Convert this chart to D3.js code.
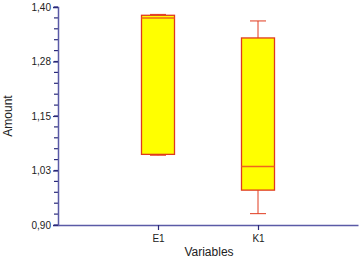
<!DOCTYPE html>
<html>
<head>
<meta charset="utf-8">
<script src="https://cdn.jsdelivr.net/npm/d3@7"></script>
<style>
  body { margin: 0; background: #fff; }
  text { font-family: "Liberation Sans", Arial, sans-serif; fill: #222; }
</style>
</head>
<body>
<script>
const categories = ["E1", "K1"];
const mins = [1.060, 0.926];
const q1s = [1.062, 0.980];
const medians = [1.375, 1.034];
const q3s = [1.381, 1.329];
const maxs = [1.383, 1.368];
const yTicks = [0.90, 1.025, 1.15, 1.275, 1.40];

window.onload = function () {
  const W = 360, H = 260;
  const M = { left: 58, top: 7, right: 0, bottom: 35 };

  const svg = d3.select("body").append("svg")
    .attr("width", W).attr("height", H);

  const x = d3.scaleLinear().domain([0, 3]).range([M.left, 358]);
  const y = d3.scaleLinear().domain([0.90, 1.40]).range([225, 7]);

  const axisColor = "#5a5aa6";

  // minor ticks
  const minor = d3.range(0.90, 1.4001, 0.025);
  svg.append("g").selectAll("line").data(minor).join("line")
    .attr("x1", M.left - 4).attr("x2", M.left)
    .attr("y1", d => y(d)).attr("y2", d => y(d))
    .attr("stroke", "#2a2a7a").attr("stroke-width", 1.2);

  const yAxis = d3.axisLeft(y).tickValues(yTicks).tickSize(5)
    .tickFormat(d => d3.format(".2f")(d + 1e-9).replace(".", ","));
  const gy = svg.append("g").attr("transform", `translate(${M.left},0)`).call(yAxis);
  gy.select(".domain").attr("stroke", axisColor).attr("stroke-width", 1.5);
  gy.selectAll(".tick line").attr("stroke", "#2a2a7a").attr("stroke-width", 1.2);
  gy.selectAll(".tick text").attr("font-size", 10).attr("x", -7).attr("fill", "#222");

  const xAxis = d3.axisBottom(x).tickValues([1, 2])
    .tickFormat(d => categories[d - 1]).tickSize(5).tickSizeOuter(0);
  const gx = svg.append("g").attr("transform", `translate(0,${y(0.90)})`).call(xAxis);
  gx.select(".domain").attr("stroke", axisColor).attr("stroke-width", 1.5);
  gx.selectAll(".tick line").attr("stroke", "#2a2a7a").attr("stroke-width", 1.2);
  gx.selectAll(".tick text").attr("font-size", 10).attr("dy", "0.85em").attr("fill", "#222");

  const boxW = 33, capW = 16;
  const stroke = "#e03a1e";
  const g = svg.append("g");
  categories.forEach((c, i) => {
    const cx = x(i + 1);
    // whiskers
    g.append("line").attr("x1", cx).attr("x2", cx)
      .attr("y1", y(maxs[i])).attr("y2", y(q3s[i])).attr("stroke", stroke);
    g.append("line").attr("x1", cx).attr("x2", cx)
      .attr("y1", y(q1s[i])).attr("y2", y(mins[i])).attr("stroke", stroke);
    [maxs[i], mins[i]].forEach(v => {
      g.append("line").attr("x1", cx - capW / 2).attr("x2", cx + capW / 2)
        .attr("y1", y(v)).attr("y2", y(v)).attr("stroke", stroke);
    });
    g.append("rect")
      .attr("x", cx - boxW / 2).attr("width", boxW)
      .attr("y", y(q3s[i])).attr("height", y(q1s[i]) - y(q3s[i]))
      .attr("fill", "#ffff00").attr("stroke", stroke).attr("stroke-width", 1.3);
    g.append("line").attr("x1", cx - boxW / 2).attr("x2", cx + boxW / 2)
      .attr("y1", y(medians[i])).attr("y2", y(medians[i]))
      .attr("stroke", "#f0661e").attr("stroke-width", 1.5);
  });

  svg.append("text").attr("x", 209).attr("y", 256)
    .attr("text-anchor", "middle").attr("font-size", 12).text("Variables");
  svg.append("text")
    .attr("transform", `translate(12,${(7 + 225) / 2}) rotate(-90)`)
    .attr("text-anchor", "middle").attr("font-size", 12).text("Amount");
};
</script>
</body>
</html>
